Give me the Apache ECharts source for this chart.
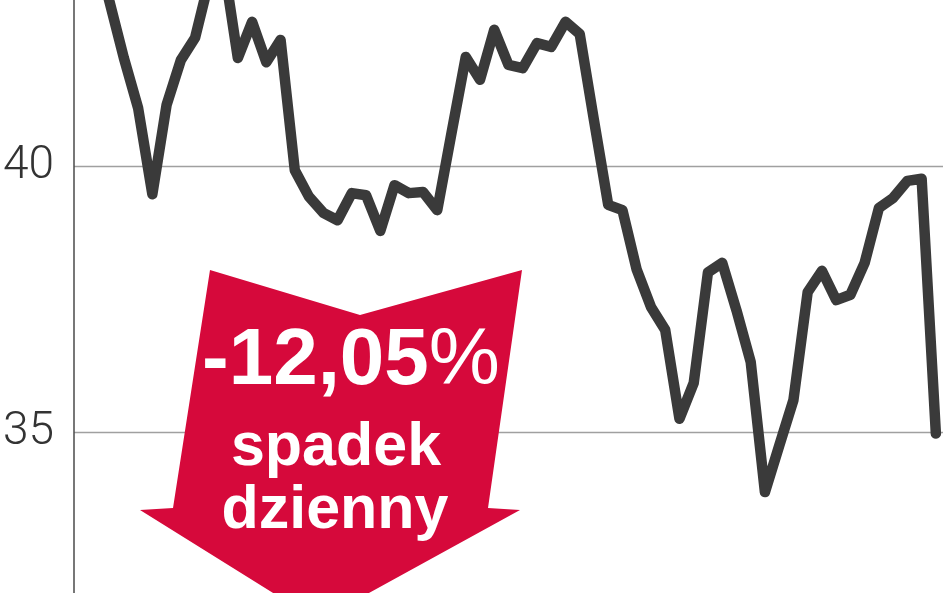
<!DOCTYPE html>
<html><head><meta charset="utf-8">
<script src="https://cdn.jsdelivr.net/npm/echarts@6/dist/echarts.min.js"></script>
<style>html,body{margin:0;padding:0;background:#fff}#c{width:948px;height:593px}</style>
</head><body><div id="c"></div>
<script>
// daily closing prices (oldest -> newest)
const prices = [44.1, 43.08, 42.03, 41.09, 39.47, 41.15, 41.99, 42.41, 43.5, 43.8,
  42.03, 42.71, 41.95, 42.37, 39.92, 39.42, 39.12, 38.98, 39.49, 39.45,
  38.78, 39.64, 39.49, 39.51, 39.17, 40.62, 42.05, 41.62, 42.56, 41.9,
  41.84, 42.31, 42.24, 42.71, 42.48, 40.86, 39.27, 39.17, 38.05, 37.35,
  36.92, 35.25, 35.92, 38.0, 38.18, 37.29, 36.32, 33.87, 34.74, 35.6,
  37.63, 38.03, 37.48, 37.58, 38.18, 39.21, 39.4, 39.72, 39.76, 34.97];
const yTickLabels = [35, 40];
const badgeValue = '-12,05';
const badgeUnit = '%';
const badgeLine1 = 'spadek';
const badgeLine2 = 'dzienny';

const chart = echarts.init(document.getElementById('c'), null, {renderer: 'canvas'});
chart.setOption({
  animation: false,
  backgroundColor: '#ffffff',
  grid: {left: 74, right: 5, top: -100, bottom: -105, containLabel: false, outerBoundsMode: 'none'},
  xAxis: {type: 'value', min: -1.5, max: prices.length - 0.5, show: false},
  yAxis: {
    type: 'value', min: 30, max: 45, interval: 5,
    axisLine: {show: true, onZero: false, lineStyle: {color: '#4a4a4a', width: 1.5}},
    axisTick: {show: false},
    splitLine: {show: true, lineStyle: {color: '#a0a0a0', width: 1.3}},
    axisLabel: {
      margin: 20, color: '#333', fontSize: 46, fontWeight: 300, fontFamily: 'Roboto',
      formatter: v => yTickLabels.includes(v) ? String(v) : ''
    }
  },
  series: [{
    type: 'line',
    data: prices.map((v, i) => [i, v]),
    symbol: 'none',
    lineStyle: {color: '#3a3a3a', width: 10.5, cap: 'round', join: 'round'},
    z: 3
  }],
  graphic: [
    {
      type: 'polygon', z: 10,
      shape: {points: [[210, 270], [360, 315], [522, 270], [488, 508], [520, 510], [318, 621], [140, 510], [173, 508]]},
      style: {fill: '#d6093b'}
    },
    {
      type: 'text', z: 11, x: 351, y: 362,
      style: {
        text: '{a|' + badgeValue + '}{b|' + badgeUnit + '}',
        align: 'center', verticalAlign: 'middle',
        rich: {
          a: {fontFamily: 'Liberation Sans', fontWeight: 'bold', fontSize: 80, fill: '#fff'},
          b: {fontFamily: 'Liberation Sans', fontWeight: 'normal', fontSize: 80, fill: '#fff'}
        }
      }
    },
    {
      type: 'text', z: 11, x: 336, y: 448,
      style: {text: badgeLine1, align: 'center', verticalAlign: 'middle',
        font: 'bold 61px "Liberation Sans"', fill: '#fff'}
    },
    {
      type: 'text', z: 11, x: 335, y: 511,
      style: {text: badgeLine2, align: 'center', verticalAlign: 'middle',
        font: 'bold 61px "Liberation Sans"', fill: '#fff'}
    }
  ]
});
</script></body></html>
